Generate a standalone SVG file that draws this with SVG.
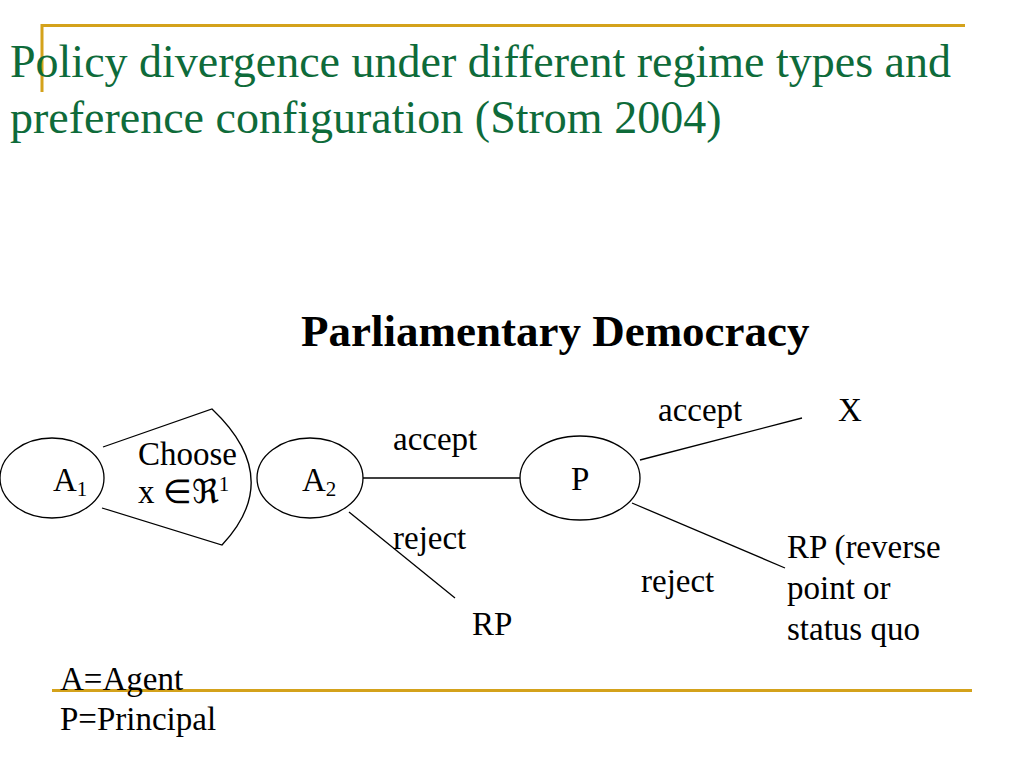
<svg xmlns="http://www.w3.org/2000/svg" width="1024" height="768" viewBox="0 0 1024 768">
<style>
.gold{stroke:#D4A21B;stroke-width:3;fill:none}
.node{fill:#fff;stroke:#000;stroke-width:1.3}
.edge{stroke:#000;stroke-width:1.3;fill:none}
</style>
<rect width="1024" height="768" fill="#fff"/>
<g id="decor">
<path class="gold" d="M42,92 V25.5 H965"/>
<line class="gold" x1="52" y1="690.5" x2="972" y2="690.5"/>
</g>
<g id="title" font-family="Liberation Serif" font-size="46" fill="#0E6B3A">
<text x="10" y="77">Policy divergence under different regime types and</text>
<text x="10" y="133">preference configuration (Strom 2004)</text>
</g>
<g id="heading">
<text x="301" y="346" font-family="Liberation Serif" font-size="45" font-weight="bold">Parliamentary Democracy</text>
</g>
<g id="connectors">
<path class="edge" d="M103,447 L212,409 Q285,478 222,545 L102,508"/>
<line class="edge" x1="363" y1="478" x2="520" y2="478"/>
<line class="edge" x1="349" y1="512" x2="455" y2="598"/>
<line class="edge" x1="640" y1="460" x2="802" y2="418"/>
<line class="edge" x1="632" y1="503" x2="785" y2="568"/>
</g>
<g font-family="Liberation Serif" font-size="33" fill="#000">
<g id="node-A1">
<ellipse class="node" cx="52" cy="478" rx="52" ry="40"/>
<text x="53" y="491">A<tspan font-size="21" dy="5">1</tspan></text>
</g>
<g id="node-choose">
<text x="138" y="465">Choose</text>
<text x="138" y="503">x ∈ℜ<tspan font-size="21" dy="-12">1</tspan></text>
</g>
<g id="node-A2">
<ellipse class="node" cx="310" cy="478" rx="53" ry="40"/>
<text x="302" y="491">A<tspan font-size="21" dy="5">2</tspan></text>
</g>
<g id="node-P">
<ellipse class="node" cx="580" cy="478" rx="60" ry="42"/>
<text x="571" y="490">P</text>
</g>
<g id="labels">
<text x="393" y="450">accept</text>
<text x="393" y="549">reject</text>
<text x="658" y="421">accept</text>
<text x="641" y="592">reject</text>
</g>
<g id="node-X"><text x="838" y="421">X</text></g>
<g id="node-RP1"><text x="472" y="635">RP</text></g>
<g id="node-RP2">
<text x="787" y="558">RP (reverse</text>
<text x="787" y="599">point or</text>
<text x="787" y="640">status quo</text>
</g>
<g id="legend">
<text x="60" y="690">A=Agent</text>
<text x="60" y="730">P=Principal</text>
</g>
</g>
</svg>
